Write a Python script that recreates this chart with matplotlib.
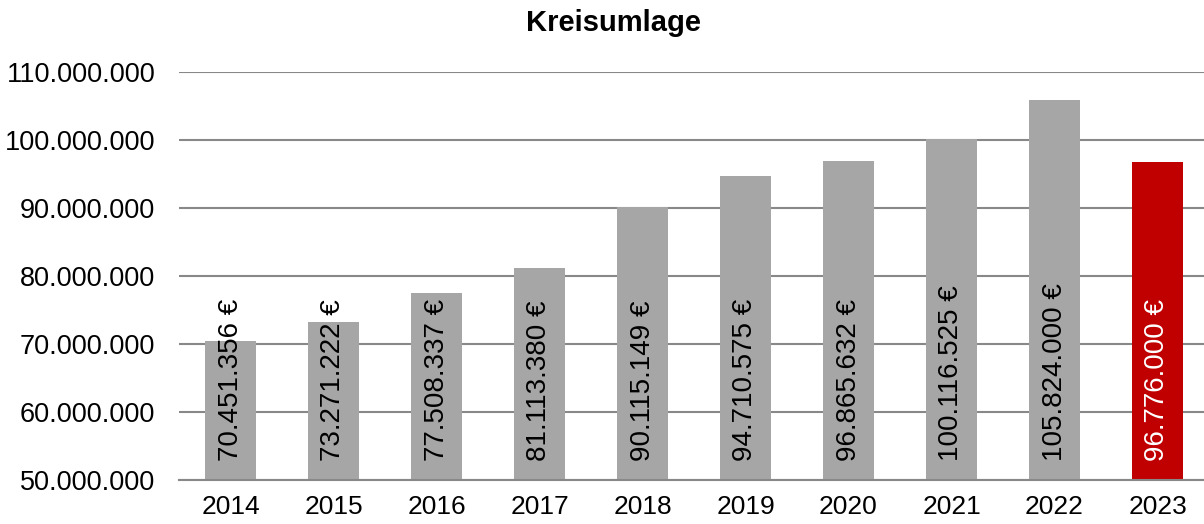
import matplotlib
matplotlib.use("Agg")
import matplotlib.pyplot as plt

years = ["2014", "2015", "2016", "2017", "2018", "2019", "2020", "2021", "2022", "2023"]
values = [70451356, 73271222, 77508337, 81113380, 90115149, 94710575,
          96865632, 100116525, 105824000, 96776000]
bar_colors = ["#A6A6A6"] * 9 + ["#C00000"]
label_colors = ["black"] * 9 + ["white"]
yticks = [50000000, 60000000, 70000000, 80000000, 90000000, 100000000, 110000000]
title = "Kreisumlage"

plt.rcParams['font.family'] = ['Liberation Sans', 'DejaVu Sans']

W, H = 1204, 524
fig = plt.figure(figsize=(W / 100, H / 100), dpi=100)
ax = fig.add_axes([179 / W, 44 / H, 1030 / W, 408 / H])

def fmt(v):
    return f"{v:,}".replace(",", ".")

x = list(range(len(years)))
ymin, ymax = yticks[0], yticks[-1]
ax.bar(x, [v - ymin for v in values], bottom=ymin, width=0.5, color=bar_colors, zorder=3)
ax.set_xlim(-0.5, len(years) - 0.5)
ax.set_ylim(ymin, ymax)
ax.set_yticks(yticks)
ax.set_yticklabels([fmt(t) for t in yticks], fontsize=19.5)
ax.set_xticks(x)
ax.set_xticklabels(years, fontsize=19)
ax.tick_params(axis='both', length=0)
ax.tick_params(axis='y', pad=17)
ax.tick_params(axis='x', pad=11)
ax.yaxis.grid(True, color="#888888", linewidth=1.5, zorder=0)
for s in ["top", "right", "left"]:
    ax.spines[s].set_visible(False)
ax.spines["bottom"].set_color("#888888")
ax.spines["bottom"].set_linewidth(1.5)
ax.spines["bottom"].set_zorder(4)

for i, v in enumerate(values):
    ax.annotate(fmt(v) + " €", xy=(i, ymin), xytext=(0, 14), textcoords="offset points",
                rotation=90, ha="center", va="bottom", fontsize=20,
                color=label_colors[i], zorder=5)

fig.text(613 / W, 1 - 23 / H, title, ha="center", va="center", fontsize=21, fontweight="bold")

fig.savefig("out.png", dpi=100)
